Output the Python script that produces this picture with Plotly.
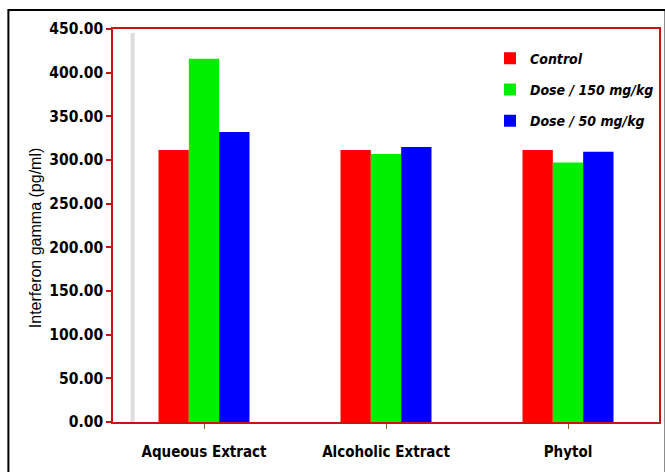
import plotly.graph_objects as go

categories = ["Aqueous Extract", "Alcoholic Extract", "Phytol"]
control = [311.5, 311.5, 311.5]
dose150 = [416.0, 307.0, 297.0]
dose50 = [332.0, 315.0, 309.5]
series_names = ["Control", "Dose / 150 mg/kg", "Dose / 50 mg/kg"]
series_colors = ["#ff0000", "#00ee00", "#0000ff"]
y_ticks = [0, 50, 100, 150, 200, 250, 300, 350, 400, 450]

NARROW = "Liberation Sans Narrow, Arial Narrow, DejaVu Sans Condensed, Liberation Sans, Arial"

fig = go.Figure()
for i, (name, vals, col) in enumerate(zip(series_names, [control, dose150, dose50], series_colors)):
    fig.add_trace(go.Bar(
        x=categories, y=vals, name=name, legendgroup=f"g{i}",
        marker=dict(color=col, line=dict(width=0)),
    ))

fig.update_layout(
    width=665, height=472, autosize=False,
    margin=dict(l=113, r=4, t=29, b=50),
    paper_bgcolor="white", plot_bgcolor="white",
    barmode="group", bargap=0.5, bargroupgap=0,
    showlegend=True,
    legend=dict(
        x=1.0, y=0.965, xanchor="right", yanchor="top",
        bgcolor="rgba(0,0,0,0)",
        font=dict(family=NARROW, size=14, color="black", weight="bold", style="italic"),
        tracegroupgap=10, traceorder="grouped", itemwidth=30,
    ),
    xaxis=dict(
        type="category", range=[-0.5, 2.5],
        showline=True, linecolor="#cc1111", linewidth=1.5, mirror=True,
        ticks="outside", ticklen=5, tickcolor="#886622", tickwidth=1,
        ticklabelstandoff=10,
        tickfont=dict(family=NARROW, size=15, color="black", weight="bold"),
        showgrid=False, zeroline=False,
    ),
    yaxis=dict(
        range=[0, 450], tickvals=y_ticks,
        ticktext=[f"{v:.2f}" for v in y_ticks],
        showline=True, linecolor="#cc1111", linewidth=1.5, mirror=True,
        ticks="outside", ticklen=5, tickcolor="#cc1111", tickwidth=1.5,
        tickfont=dict(family=NARROW, size=15.5, color="black", weight="bold"),
        showgrid=False, zeroline=False,
    ),
    shapes=[
        dict(type="rect", xref="paper", yref="paper", x0=-0.1916, x1=1.012, y0=-0.135, y1=1.0483,
             line=dict(color="black", width=2), fillcolor="rgba(0,0,0,0)", layer="below"),
        dict(type="line", xref="paper", yref="paper", x0=0.036, x1=0.036, y0=0.0, y1=0.99,
             line=dict(color="#dddddd", width=4), layer="below"),
    ],
    annotations=[
        dict(text="Interferon gamma (pg/ml)", xref="paper", yref="paper", x=-0.143, y=0.47,
             textangle=-90, showarrow=False, xanchor="center", yanchor="middle",
             font=dict(family="Liberation Sans, Arial", size=16, color="black")),
    ],
)

fig.write_html(
    "out.html",
    config={"responsive": False, "displayModeBar": False},
    post_script="document.body.style.margin='0';document.body.style.overflow='hidden';",
)
